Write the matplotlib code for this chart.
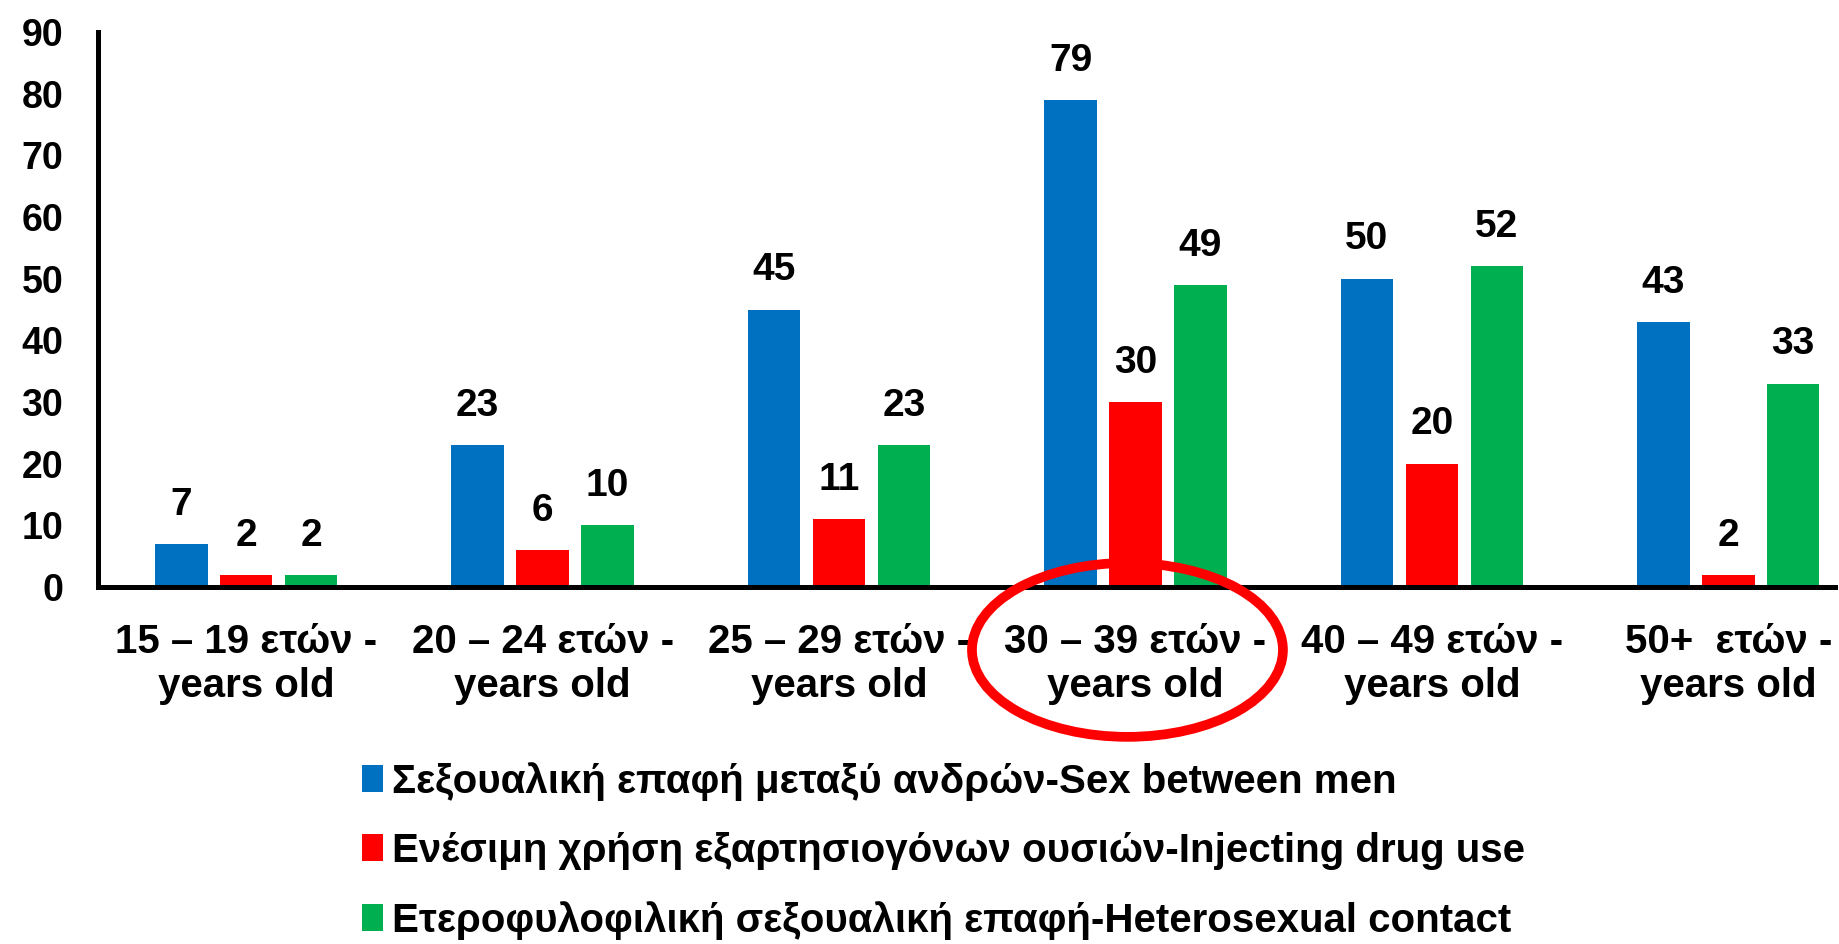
import matplotlib
matplotlib.use("Agg")
import matplotlib.pyplot as plt
from matplotlib.patches import Ellipse, Rectangle
import numpy as np

plt.rcParams['font.family'] = ['Liberation Sans', 'DejaVu Sans']
plt.rcParams['font.weight'] = 'bold'

categories = [
    "15 – 19 ετών -\nyears old",
    "20 – 24 ετών -\nyears old",
    "25 – 29 ετών -\nyears old",
    "30 – 39 ετών -\nyears old",
    "40 – 49 ετών -\nyears old",
    "50+  ετών -\nyears old",
]
series_names = [
    "Σεξουαλική επαφή μεταξύ ανδρών-Sex between men",
    "Ενέσιμη χρήση εξαρτησιογόνων ουσιών-Injecting drug use",
    "Ετεροφυλοφιλική σεξουαλική επαφή-Heterosexual contact",
]
sex_between_men = [7, 23, 45, 79, 50, 43]
injecting_drug_use = [2, 6, 11, 30, 20, 2]
heterosexual_contact = [2, 10, 23, 49, 52, 33]
yticks = [0, 10, 20, 30, 40, 50, 60, 70, 80, 90]

colors = ["#0070C0", "#FF0000", "#00B050"]

fig = plt.figure(figsize=(18.39, 9.44), dpi=100)
ax = fig.add_axes([98 / 1839, 1 - 587 / 944, (1835 - 98) / 1839, (587 - 32) / 944])

x = np.arange(len(categories))
width = 0.177
step = 0.219
all_series = [sex_between_men, injecting_drug_use, heterosexual_contact]
for i, (vals, col) in enumerate(zip(all_series, colors)):
    bars = ax.bar(x + (i - 1) * step, vals, width, color=col, zorder=2)
    for b, v in zip(bars, vals):
        ax.annotate(str(v), (b.get_x() + b.get_width() / 2, v),
                    xytext=(0, 21), textcoords="offset points",
                    ha="center", va="baseline", fontsize=28, fontweight="bold")

ax.set_xlim(-0.5, 5.36)
ax.set_ylim(0, 90)
ax.set_yticks(yticks)
ax.set_yticklabels([str(t) for t in yticks], fontsize=27, fontweight="bold")
ax.set_xticks(x)
ax.set_xticklabels(categories, fontsize=29, fontweight="bold", linespacing=1.2)
ax.tick_params(axis="y", length=0, pad=25)
ax.tick_params(axis="x", length=0, pad=26)

for s in ["top", "right"]:
    ax.spines[s].set_visible(False)
for s in ["left", "bottom"]:
    ax.spines[s].set_linewidth(3.6)
    ax.spines[s].set_color("black")
    ax.spines[s].set_capstyle("projecting")

# Highlight of the 30–39 age group
ell = Ellipse((2.973, -10.2), 1.049, 28.2, transform=ax.transData,
              fill=False, edgecolor="#FF0000", linewidth=7, zorder=10, clip_on=False)
ax.add_patch(ell)

handles = [Rectangle((0, 0), 1, 1, facecolor=c, edgecolor="none") for c in colors]
fig.legend(handles, series_names, loc="upper left",
           bbox_to_anchor=(362 / 1839, 1 - 762 / 944),
           frameon=False, fontsize=29, handlelength=0.53, handleheight=0.63,
           handletextpad=0.21, labelspacing=0.77, borderpad=0, borderaxespad=0)

fig.savefig("out.png", dpi=100, facecolor="white")
